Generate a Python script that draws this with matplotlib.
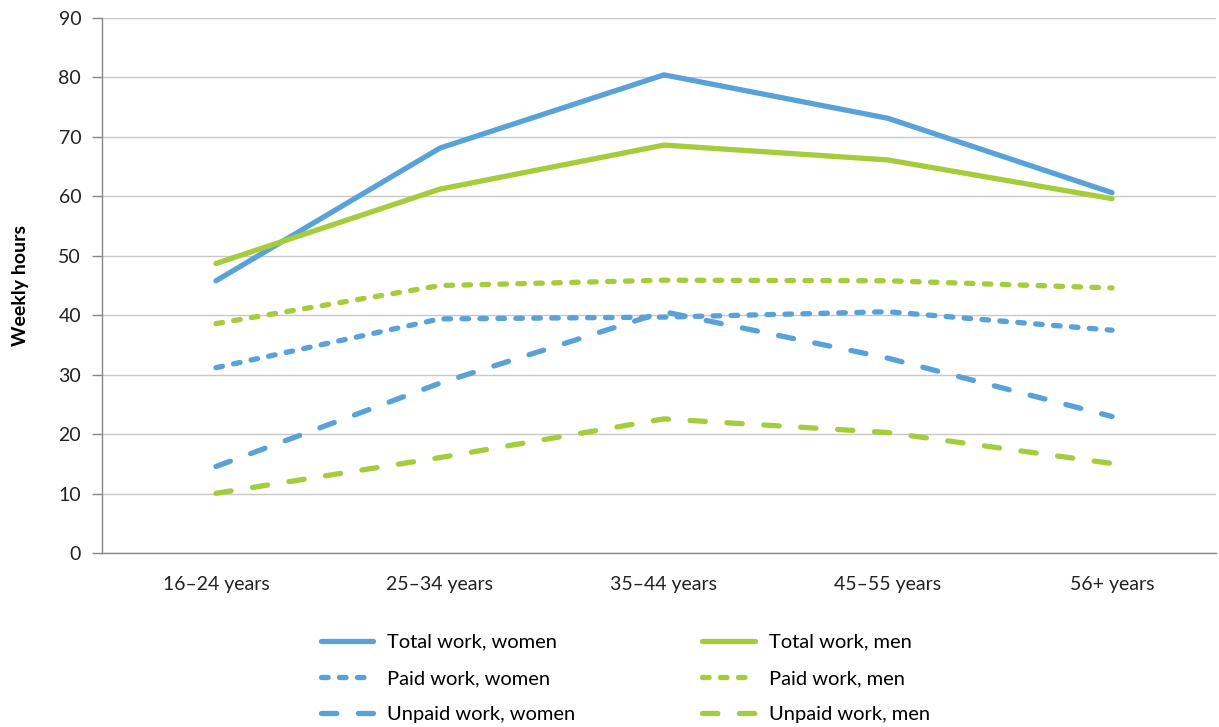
import matplotlib
matplotlib.use("Agg")
import matplotlib.pyplot as plt

plt.rcParams['font.family'] = ['Lato', 'DejaVu Sans']

categories = ["16–24 years", "25–34 years", "35–44 years", "45–55 years", "56+ years"]
total_women = [45.8, 68.1, 80.4, 73.1, 60.6]
total_men = [48.7, 61.2, 68.6, 66.1, 59.6]
paid_women = [31.2, 39.4, 39.7, 40.6, 37.5]
paid_men = [38.6, 45.0, 45.9, 45.8, 44.6]
unpaid_women = [14.6, 28.6, 40.6, 32.8, 23.0]
unpaid_men = [10.1, 16.1, 22.6, 20.3, 15.1]

blue = "#58A1D9"
green = "#A5CC3B"
lw = 3.8

fig = plt.figure(figsize=(12.19, 7.27), dpi=100)
ax = fig.add_axes([102 / 1219, 1 - 553.4 / 727, (1216 - 102) / 1219, (553.4 - 17.7) / 727])
x = list(range(len(categories)))

dotted = (0, (1.25, 2.15))
dashed = (0, (2.9, 4.1))

ax.plot(x, total_women, color=blue, lw=lw, solid_capstyle='round', label="Total work, women")
ax.plot(x, total_men, color=green, lw=lw, solid_capstyle='round', label="Total work, men")
ax.plot(x, paid_women, color=blue, lw=lw, linestyle=dotted, dash_capstyle='round', label="Paid work, women")
ax.plot(x, paid_men, color=green, lw=lw, linestyle=dotted, dash_capstyle='round', label="Paid work, men")
ax.plot(x, unpaid_women, color=blue, lw=lw, linestyle=dashed, dash_capstyle='round', label="Unpaid work, women")
ax.plot(x, unpaid_men, color=green, lw=lw, linestyle=dashed, dash_capstyle='round', label="Unpaid work, men")

ax.set_xlim(-(216 - 102) / 224, 4 + (1216 - 1112) / 224)
ax.set_ylim(0, 90)
ax.set_yticks(range(0, 91, 10))
ax.set_xticks(x)
ax.set_xticklabels(categories)
ax.tick_params(axis='x', length=0, pad=16, labelsize=14, colors='#222222')
ax.tick_params(axis='y', length=7, width=1, color='#888888', labelsize=14, colors='#222222', pad=8)
ax.yaxis.grid(True, color='#C8C8C8', lw=1)
ax.set_axisbelow(True)
for s in ['top', 'right']:
    ax.spines[s].set_visible(False)
for s in ['left', 'bottom']:
    ax.spines[s].set_color('#888888')
    ax.spines[s].set_linewidth(1)
ax.set_ylabel("Weekly hours", fontsize=14, fontweight='bold', labelpad=21)

handles, labels = ax.get_legend_handles_labels()
order = [0, 2, 4, 1, 3, 5]
fig.legend([handles[i] for i in order], [labels[i] for i in order],
           loc='lower center', bbox_to_anchor=(0.513, -0.006), ncol=2, frameon=False,
           borderaxespad=0, fontsize=14.5, handlelength=2.6, handletextpad=0.7,
           columnspacing=6.3, labelspacing=0.95)

fig.savefig("out.png", dpi=100)
